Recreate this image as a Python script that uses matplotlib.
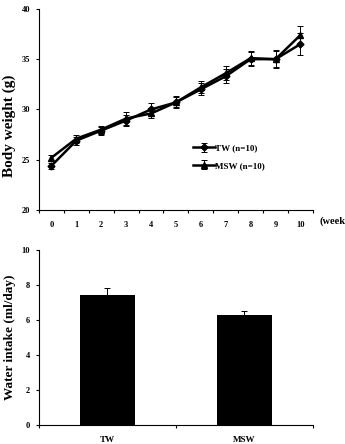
import matplotlib.pyplot as plt
import numpy as np

plt.rcParams['font.family'] = ['Liberation Serif', 'DejaVu Serif']
plt.rcParams['font.weight'] = 'bold'

weeks = list(range(11))
tw_weight = [24.4, 26.9, 27.9, 28.9, 30.0, 30.7, 32.0, 33.3, 35.0, 35.0, 36.5]
tw_err = [0.3, 0.4, 0.4, 0.5, 0.6, 0.6, 0.6, 0.7, 0.7, 0.9, 1.1]
msw_weight = [25.2, 27.1, 28.0, 29.1, 29.6, 30.7, 32.2, 33.6, 35.1, 35.0, 37.4]
msw_err = [0.3, 0.4, 0.4, 0.6, 0.5, 0.5, 0.6, 0.7, 0.7, 0.8, 0.9]

groups = ['TW', 'MSW']
water = [7.4, 6.3]
water_err = [0.4, 0.2]

fig = plt.figure(figsize=(3.45, 4.44), dpi=100)

# body weight
ax1 = fig.add_axes([0.113, 0.527, 0.794, 0.453])
ax1.errorbar(weeks, tw_weight, yerr=tw_err, color='black', marker='D', markersize=3.5,
             lw=1.8, elinewidth=0.7, capsize=2, capthick=0.7, label='TW (n=10)')
ax1.errorbar(weeks, msw_weight, yerr=msw_err, color='black', marker='^', markersize=4,
             lw=1.8, elinewidth=0.7, capsize=2, capthick=0.7, label='MSW (n=10)')
ax1.set_xlim(-0.5, 10.5)
ax1.set_ylim(20, 40)
ax1.set_yticks([20, 25, 30, 35, 40])
ax1.set_xticks(weeks)
ax1.set_xticks(np.arange(-0.5, 11, 1), minor=True)
ax1.tick_params(axis='x', which='major', length=0, labelsize=6, pad=8)
ax1.tick_params(axis='x', which='minor', length=2.5, width=0.8)
ax1.tick_params(axis='y', length=2, width=0.8, labelsize=6, pad=4.5)
for s in ['top', 'right']:
    ax1.spines[s].set_visible(False)
ax1.set_ylabel('Body weight (g)', fontsize=11, fontweight='bold')
ax1.yaxis.set_label_coords(-0.085, 0.42)
ax1.text(10.75, 18.85, '(week', fontsize=7.5, fontweight='bold', ha='left', va='center',
         transform=ax1.transData, clip_on=False)
ax1.legend(loc='upper left', bbox_to_anchor=(0.55, 0.345), frameon=False,
           fontsize=6.5, handlelength=2.4, handletextpad=0.05, labelspacing=1.0,
           borderaxespad=0)

# water intake
ax2 = fig.add_axes([0.113, 0.043, 0.794, 0.394])
x = np.arange(len(groups))
ax2.bar(x, water, width=0.4, color='black', yerr=water_err,
        error_kw=dict(elinewidth=0.7, capsize=2, capthick=0.7, ecolor='black'))
ax2.set_xlim(-0.5, 1.5)
ax2.set_ylim(0, 10)
ax2.set_yticks([0, 2, 4, 6, 8, 10])
ax2.set_xticks(x)
ax2.set_xticklabels(groups)
ax2.set_xticks([-0.5, 0.5, 1.5], minor=True)
ax2.tick_params(axis='x', which='major', length=0, labelsize=6.5, pad=8)
ax2.tick_params(axis='x', which='minor', length=2.5, width=0.8)
ax2.tick_params(axis='y', length=2, width=0.8, labelsize=6, pad=4.5)
for s in ['top', 'right']:
    ax2.spines[s].set_visible(False)
ax2.set_ylabel('Water intake (ml/day)', fontsize=9.5, fontweight='bold', labelpad=4)

fig.savefig('out.png', dpi=100)
